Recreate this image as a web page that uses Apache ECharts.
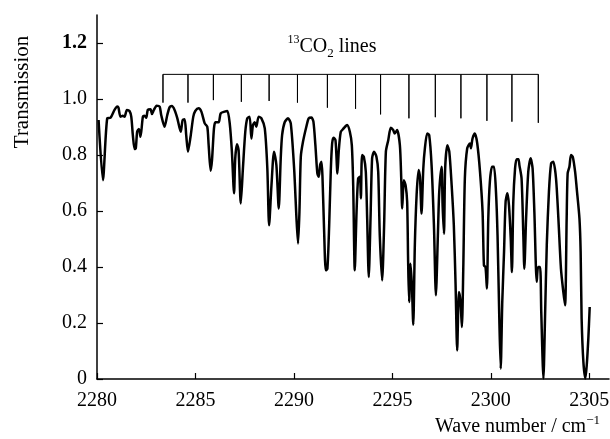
<!DOCTYPE html>
<html>
<head>
<meta charset="utf-8">
<script src="https://cdn.jsdelivr.net/npm/echarts@6/dist/echarts.min.js"></script>
<style>
  html, body { margin: 0; padding: 0; background: #fff; }
  #chart { width: 610px; height: 439px; }
</style>
</head>
<body>
<div id="chart"></div>
<script>
// 波数 (cm^-1) 与透射率, 从图上逐点读取
const waveNumber = [
  2280.08, 2280.30, 2280.52, 2280.69, 2280.89, 2281.03, 2281.09, 2281.19, 2281.31, 2281.40,
  2281.52, 2281.65, 2281.74, 2281.82, 2281.91, 2281.97, 2282.04, 2282.13, 2282.21, 2282.33,
  2282.41, 2282.50, 2282.58, 2282.72, 2282.79, 2282.89, 2283.03, 2283.18, 2283.26, 2283.43,
  2283.57, 2283.69, 2283.80, 2283.94, 2284.08, 2284.25, 2284.35, 2284.45, 2284.53, 2284.62,
  2284.75, 2284.89, 2284.99, 2285.16, 2285.30, 2285.47, 2285.60, 2285.67, 2285.77, 2285.84,
  2285.94, 2286.01, 2286.18, 2286.28, 2286.48, 2286.62, 2286.74, 2286.85, 2286.96, 2287.02,
  2287.11, 2287.19, 2287.30, 2287.41, 2287.53, 2287.63, 2287.75, 2287.84, 2287.92, 2288.01,
  2288.09, 2288.21, 2288.35, 2288.52, 2288.65, 2288.74, 2288.86, 2288.99, 2289.11, 2289.23,
  2289.33, 2289.40, 2289.53, 2289.70, 2289.84, 2290.01, 2290.13, 2290.21, 2290.28, 2290.35,
  2290.46, 2290.63, 2290.75, 2290.89, 2290.99, 2291.09, 2291.19, 2291.26, 2291.33, 2291.40,
  2291.45, 2291.53, 2291.62, 2291.70, 2291.79, 2291.87, 2291.94, 2292.01, 2292.11, 2292.21,
  2292.28, 2292.38, 2292.50, 2292.70, 2292.84, 2292.94, 2293.01, 2293.09, 2293.18, 2293.26,
  2293.35, 2293.40, 2293.46, 2293.55, 2293.65, 2293.72, 2293.80, 2293.89, 2293.97, 2294.07,
  2294.19, 2294.28, 2294.36, 2294.48, 2294.58, 2294.67, 2294.79, 2294.92, 2295.04, 2295.12,
  2295.24, 2295.38, 2295.45, 2295.50, 2295.58, 2295.67, 2295.75, 2295.80, 2295.85, 2295.92,
  2295.99, 2296.06, 2296.14, 2296.23, 2296.33, 2296.40, 2296.48, 2296.57, 2296.65, 2296.77,
  2296.87, 2296.99, 2297.11, 2297.21, 2297.31, 2297.38, 2297.50, 2297.55, 2297.62, 2297.68,
  2297.79, 2297.89, 2298.01, 2298.12, 2298.21, 2298.29, 2298.38, 2298.46, 2298.53, 2298.60,
  2298.68, 2298.80, 2298.94, 2298.99, 2299.07, 2299.19, 2299.31, 2299.45, 2299.58, 2299.65,
  2299.73, 2299.80, 2299.87, 2299.95, 2300.06, 2300.16, 2300.26, 2300.34, 2300.43, 2300.50,
  2300.58, 2300.67, 2300.75, 2300.84, 2300.92, 2301.01, 2301.07, 2301.14, 2301.23, 2301.31,
  2301.40, 2301.45, 2301.56, 2301.65, 2301.70, 2301.79, 2301.90, 2302.02, 2302.12, 2302.21,
  2302.33, 2302.40, 2302.50, 2302.56, 2302.67, 2302.75, 2302.84, 2302.95, 2303.06, 2303.17,
  2303.31, 2303.43, 2303.56, 2303.68, 2303.77, 2303.85, 2303.90, 2303.99, 2304.07, 2304.16,
  2304.28, 2304.36, 2304.50, 2304.56, 2304.61, 2304.70, 2304.80, 2304.87, 2304.95, 2305.02
]
const transmission = [
  0.925, 0.710, 0.931, 0.933, 0.961, 0.973, 0.969, 0.937, 0.940, 0.937,
  0.961, 0.957, 0.937, 0.871, 0.821, 0.824, 0.883, 0.893, 0.865, 0.937,
  0.940, 0.933, 0.961, 0.963, 0.946, 0.961, 0.976, 0.973, 0.943, 0.901,
  0.943, 0.971, 0.975, 0.961, 0.931, 0.883, 0.925, 0.928, 0.871, 0.812,
  0.865, 0.937, 0.957, 0.967, 0.955, 0.913, 0.901, 0.835, 0.744, 0.782,
  0.895, 0.917, 0.917, 0.949, 0.955, 0.957, 0.913, 0.812, 0.663, 0.788,
  0.838, 0.818, 0.627, 0.752, 0.883, 0.931, 0.937, 0.859, 0.907, 0.917,
  0.901, 0.937, 0.931, 0.895, 0.752, 0.549, 0.692, 0.812, 0.764, 0.609,
  0.788, 0.871, 0.917, 0.931, 0.913, 0.752, 0.573, 0.484, 0.597, 0.794,
  0.847, 0.901, 0.931, 0.934, 0.919, 0.835, 0.734, 0.722, 0.764, 0.776,
  0.722, 0.537, 0.388, 0.394, 0.549, 0.740, 0.841, 0.862, 0.853, 0.734,
  0.818, 0.883, 0.893, 0.907, 0.883, 0.835, 0.692, 0.388, 0.597, 0.716,
  0.722, 0.645, 0.800, 0.794, 0.740, 0.573, 0.364, 0.573, 0.788, 0.812,
  0.794, 0.740, 0.513, 0.352, 0.549, 0.812, 0.853, 0.897, 0.889, 0.877,
  0.889, 0.835, 0.716, 0.609, 0.710, 0.692, 0.633, 0.418, 0.275, 0.412,
  0.335, 0.194, 0.478, 0.657, 0.746, 0.722, 0.591, 0.752, 0.824, 0.877,
  0.871, 0.764, 0.549, 0.299, 0.513, 0.669, 0.758, 0.621, 0.519, 0.752,
  0.835, 0.812, 0.692, 0.549, 0.335, 0.102, 0.311, 0.275, 0.186, 0.394,
  0.716, 0.824, 0.841, 0.824, 0.859, 0.877, 0.841, 0.740, 0.597, 0.406,
  0.400, 0.323, 0.573, 0.704, 0.758, 0.758, 0.669, 0.513, 0.215, 0.037,
  0.275, 0.454, 0.633, 0.663, 0.621, 0.502, 0.382, 0.633, 0.752, 0.785,
  0.785, 0.764, 0.716, 0.513, 0.394, 0.573, 0.740, 0.788, 0.752, 0.597,
  0.347, 0.400, 0.400, 0.240, 0.002, 0.215, 0.478, 0.669, 0.770, 0.776,
  0.716, 0.573, 0.394, 0.311, 0.263, 0.573, 0.734, 0.758, 0.800, 0.794,
  0.740, 0.681, 0.573, 0.454, 0.215, 0.060, 0.002, 0.049, 0.144, 0.257
]

// 13CO2 谱线位置 (梳状标记)
const lineCenters = [
  2283.35, 2284.62, 2285.91, 2287.33, 2288.74, 2290.18, 2291.70, 2293.13,
  2294.40, 2295.84, 2297.18, 2298.48, 2299.80, 2301.07, 2302.41
]
const lineBottoms = [
  0.987, 0.987, 0.996, 0.990, 0.993, 0.987, 0.969, 0.965,
  0.945, 0.931, 0.935, 0.931, 0.922, 0.919, 0.915
]
const combTop = 1.088

const xTicks = [2280, 2285, 2290, 2295, 2300, 2305]
const yTicks = [0, 0.2, 0.4, 0.6, 0.8, 1.0, 1.2]

const FONT = 'Liberation Serif'

const spectrum = waveNumber.map((x, i) => [x, transmission[i]])

// 梳子: 顶部横线 + 每条谱线一根竖线
const comb = []
lineCenters.forEach((x, i) => {
  comb.push([x, combTop])
  comb.push([x, lineBottoms[i]])
  comb.push([x, combTop])
})

const chart = echarts.init(document.getElementById('chart'), null, {renderer: 'canvas'})

const option = {
  backgroundColor: '#ffffff',
  animation: false,
  grid: {
    left: 97,
    right: 1,
    top: 15,
    bottom: 60,
    outerBoundsMode: 'none',
  },
  xAxis: {
    type: 'value',
    min: 2280,
    max: 2306,
    axisLine: {lineStyle: {color: '#000', width: 1.5}},
    axisTick: {
      show: true,
      inside: true,
      length: 6,
      customValues: xTicks,
      lineStyle: {color: '#000', width: 1.2},
    },
    axisLabel: {
      customValues: xTicks,
      margin: 12,
      fontFamily: FONT,
      fontSize: 20,
      color: '#000',
      formatter: (v) => String(v), // 不要千分位
    },
    splitLine: {show: false},
  },
  yAxis: {
    type: 'value',
    min: 0,
    max: 1.3,
    axisLine: {show: true, lineStyle: {color: '#000', width: 1.5}},
    axisTick: {
      show: true,
      inside: true,
      length: 6,
      customValues: yTicks,
      lineStyle: {color: '#000', width: 1.2},
    },
    axisLabel: {
      customValues: yTicks,
      margin: 10,
      fontFamily: FONT,
      fontSize: 20,
      color: '#000',
      formatter: function (v) {
        if (v === 0) return '0'
        if (Math.abs(v - 1.2) < 1e-6) return '{b|1.2}'
        return v.toFixed(1)
      },
      rich: {
        b: {fontFamily: FONT, fontSize: 20, fontWeight: 'bold', color: '#000'},
      },
    },
    splitLine: {show: false},
  },
  graphic: [
    {
      type: 'text',
      x: 22,
      y: 92,
      rotation: Math.PI / 2,
      style: {
        text: 'Transmission',
        font: '21px ' + FONT,
        fill: '#000',
        align: 'center',
        verticalAlign: 'middle',
      },
    },
    {
      type: 'text',
      x: 332,
      y: 47,
      style: {
        text: '{sup|13}{m|CO}{sub|2}{m| lines}',
        align: 'center',
        verticalAlign: 'middle',
        rich: {
          m: {fontFamily: FONT, fontSize: 20, color: '#000', lineHeight: 26},
          sup: {fontFamily: FONT, fontSize: 12, color: '#000', verticalAlign: 'top', lineHeight: 14},
          sub: {fontFamily: FONT, fontSize: 13, color: '#000', verticalAlign: 'bottom', lineHeight: 14},
        },
      },
    },
    {
      type: 'text',
      x: 600,
      y: 427,
      style: {
        text: '{m|Wave number / cm}{sup|\u22121}',
        align: 'right',
        verticalAlign: 'middle',
        rich: {
          m: {fontFamily: FONT, fontSize: 20, color: '#000', lineHeight: 26},
          sup: {fontFamily: FONT, fontSize: 13, color: '#000', verticalAlign: 'top', lineHeight: 14},
        },
      },
    },
  ],
  series: [
    {
      name: 'spectrum',
      type: 'line',
      data: spectrum,
      showSymbol: false,
      smooth: 0.25,
      lineStyle: {color: '#000', width: 2.5},
      z: 3,
    },
    {
      name: 'comb',
      type: 'line',
      data: comb,
      showSymbol: false,
      lineStyle: {color: '#000', width: 1},
      z: 2,
    },
  ],
}

chart.setOption(option)
</script>
</body>
</html>
